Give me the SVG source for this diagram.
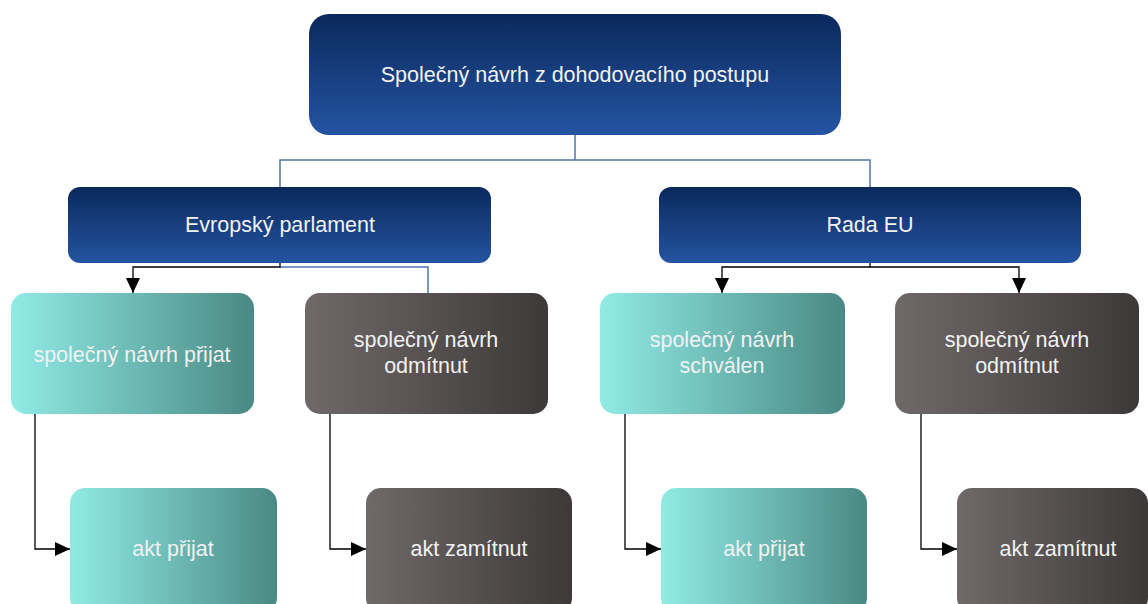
<svg xmlns="http://www.w3.org/2000/svg" width="1148" height="604" viewBox="0 0 1148 604">
<style>
  .t{font-family:"Liberation Sans",Arial,sans-serif;font-size:21.5px;fill:#f2f2f2;text-anchor:middle}
  .blue{fill:url(#gBlue)}
  .teal{fill:url(#gTeal)}
  .gray{fill:url(#gGray)}
  .cb{fill:none;stroke:#4f74b0;stroke-width:1.5}
  .ck{fill:none;stroke:#000;stroke-width:1.3}
</style>
<defs>
  <linearGradient id="gBlue" x1="0" y1="0" x2="0" y2="1">
    <stop offset="0" stop-color="#0a295c"/>
    <stop offset="1" stop-color="#2554a2"/>
  </linearGradient>
  <linearGradient id="gTeal" x1="0" y1="0" x2="1" y2="0">
    <stop offset="0" stop-color="#91ebe5"/>
    <stop offset="1" stop-color="#4a8984"/>
  </linearGradient>
  <linearGradient id="gGray" x1="0" y1="0" x2="1" y2="0">
    <stop offset="0" stop-color="#6f6a69"/>
    <stop offset="1" stop-color="#3e3939"/>
  </linearGradient>
  <marker id="arr" markerWidth="15" markerHeight="14" refX="15" refY="7" orient="auto" markerUnits="userSpaceOnUse">
    <path d="M0,0 L15,7 L0,14 Z" fill="#000"/>
  </marker>
</defs>

<g id="connectors">
  <path class="cb" d="M575,135 V160 M280,187 V160 H870 V187"/>
  <path class="cb" d="M280,267 H428 V293"/>
  <path class="ck" d="M280,263 V267 H133 V293" marker-end="url(#arr)"/>
  <path class="ck" d="M870,263 V267 H722 V293" marker-end="url(#arr)"/>
  <path class="ck" d="M870,267 H1019 V293" marker-end="url(#arr)"/>
  <path class="ck" d="M35,414 V549 H70" marker-end="url(#arr)"/>
  <path class="ck" d="M330,414 V549 H366" marker-end="url(#arr)"/>
  <path class="ck" d="M625,414 V549 H661" marker-end="url(#arr)"/>
  <path class="ck" d="M921,414 V549 H957" marker-end="url(#arr)"/>
</g>

<g id="n-top">
  <rect class="blue" x="309" y="14" width="532" height="121" rx="20"/>
  <text class="t" x="575" y="82">Společný návrh z dohodovacího postupu</text>
</g>
<g id="n-ep">
  <rect class="blue" x="68" y="187" width="423" height="76" rx="12"/>
  <text class="t" x="280" y="232">Evropský parlament</text>
</g>
<g id="n-rada">
  <rect class="blue" x="659" y="187" width="422" height="76" rx="12"/>
  <text class="t" x="870" y="232">Rada EU</text>
</g>

<g id="n-ep-prijat">
  <rect class="teal" x="11" y="293" width="243" height="121" rx="15"/>
  <text class="t" x="132" y="362">společný návrh přijat</text>
</g>
<g id="n-ep-odmitnut">
  <rect class="gray" x="305" y="293" width="243" height="121" rx="15"/>
  <text class="t" x="426" y="347">společný návrh</text>
  <text class="t" x="426" y="373">odmítnut</text>
</g>
<g id="n-rada-schvalen">
  <rect class="teal" x="600" y="293" width="245" height="121" rx="15"/>
  <text class="t" x="722" y="347">společný návrh</text>
  <text class="t" x="722" y="373">schválen</text>
</g>
<g id="n-rada-odmitnut">
  <rect class="gray" x="895" y="293" width="244" height="121" rx="15"/>
  <text class="t" x="1017" y="347">společný návrh</text>
  <text class="t" x="1017" y="373">odmítnut</text>
</g>

<g id="n-akt1">
  <rect class="teal" x="70" y="488" width="207" height="125" rx="15"/>
  <text class="t" x="173" y="556">akt přijat</text>
</g>
<g id="n-akt2">
  <rect class="gray" x="366" y="488" width="206" height="125" rx="15"/>
  <text class="t" x="469" y="556">akt zamítnut</text>
</g>
<g id="n-akt3">
  <rect class="teal" x="661" y="488" width="206" height="125" rx="15"/>
  <text class="t" x="764" y="556">akt přijat</text>
</g>
<g id="n-akt4">
  <rect class="gray" x="957" y="488" width="191" height="125" rx="15"/>
  <text class="t" x="1058" y="556">akt zamítnut</text>
</g>
</svg>
